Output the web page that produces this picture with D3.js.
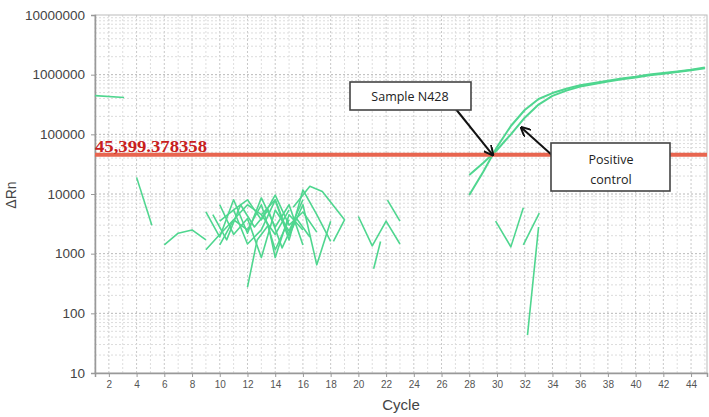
<!DOCTYPE html>
<html><head><meta charset="utf-8">
<script src="https://cdn.jsdelivr.net/npm/d3@7"></script>
<style>body{margin:0;background:#fff;}svg{display:block;}</style>
</head><body>
<svg id="c" width="709" height="417"></svg>
<script>
// ---- data ----
const yTicks = [10, 100, 1000, 10000, 100000, 1000000, 10000000];
const xTicks = [2,4,6,8,10,12,14,16,18,20,22,24,26,28,30,32,34,36,38,40,42,44];
const threshold = 45399.378358;
const thresholdLabel = "45,399.378358";
const sampleCycles = [28,29,30,31,32,33,34,35,36,37,38,39,40,41,42,43,44,45];
const sampleN428 = [20800,33000,54600,100000,190000,315000,440000,540000,630000,700000,770000,840000,900000,980000,1040000,1105000,1185000,1280000];
const positiveCtrl = [9600,23400,61300,138000,256000,391000,492000,580000,665000,725000,795000,865000,925000,1005000,1070000,1135000,1215000,1320000];
// background noise traces: [cycle, ΔRn]
const noise = [
  [[1,445000],[3.1,415000]],
  [[4,19000],[5.1,3000]],
  [[6,1400],[7,2200],[8,2500],[9,1700]],
  [[9,5000],[10,1900],[11,8000],[12,2200],[13,8600],[14,2800],[15,6600],[16,1400]],
  [[9,1160],[10,2100],[11,3700],[12,6600],[13,4500],[14,2100],[15,5400]],
  [[12,275],[12.7,1700],[13.5,3000],[14,860],[15,4500],[16,2500]],
  [[10,3500],[11,5400],[12,1450],[13,2500],[14,7900],[15,1700],[16,11700],[17,4500],[18,1600]],
  [[10,6600],[11,2100],[12,3900],[13,860],[14,5400],[15,2400],[16,8000]],
  [[11,5400],[12,8000],[13,3700],[14,9600],[15,3000],[16,5000],[17,2300]],
  [[13,4500],[14,8000],[15,2000],[16,6600],[17,650],[18,3500]],
  [[15.3,6000],[16.5,13500],[17.4,11000],[19,3700],[18.2,1600]],
  [[10,1400],[11,3700],[12,2500],[13,6600],[14,1160],[15,3700]],
  [[9.5,4500],[10.5,1700],[11.5,6600],[12.5,2800],[13.5,5400],[14.5,1250],[15.5,4000],[16.5,1900]],
  [[20,4200],[21,1350],[22,3500],[23,1450]],
  [[21.1,560],[21.6,1600]],
  [[22.1,7900],[23,3500]],
  [[29.9,3500],[31,1300],[31.9,5900]],
  [[31.9,1400],[33.05,4800]],
  [[32.2,43],[33,2800]]
];
// ---- layout ----
const svg = d3.select("#c");
const L = 95, R = 707, T = 15, B = 373;
const x = d3.scaleLinear().domain([1, 45.15]).range([L, R]);
const y = d3.scaleLog().domain([10, 1e7]).range([B, T]);
const green = "#4fd68f";

// grid
const g = svg.append("g");
for (let c = 1; c <= 45; c++) {
  g.append("line").attr("x1", x(c)).attr("x2", x(c)).attr("y1", T).attr("y2", B)
   .attr("stroke", c % 2 === 0 ? "#c8c8c8" : "#dedede").attr("stroke-dasharray", "2,2").attr("stroke-width", 1);
}
for (let k = 1; k < 7; k++) {
  for (let m = 1; m <= 9; m++) {
    const v = m * Math.pow(10, k);
    if (v <= 10 || v >= 1e7) continue;
    g.append("line").attr("x1", L).attr("x2", R).attr("y1", y(v)).attr("y2", y(v))
     .attr("stroke", m === 1 ? "#b8b8b8" : "#dcdcdc").attr("stroke-dasharray", "2,2").attr("stroke-width", 1);
  }
}
// frame
svg.append("rect").attr("x", L).attr("y", T).attr("width", R - L).attr("height", B - T)
  .attr("fill", "none").attr("stroke", "#bbb").attr("stroke-width", 1);

// axes
const yAxis = d3.axisLeft(y).tickValues(yTicks).tickFormat(d3.format("d")).tickSize(4).tickPadding(6);
const ya = svg.append("g").attr("transform", `translate(${L},0)`).call(yAxis);
ya.select(".domain").attr("stroke", "#999").attr("stroke-width", 1.5);
ya.selectAll(".tick line").attr("stroke", "#999");
ya.selectAll("text").attr("font-family", "Liberation Sans, Arial, sans-serif").attr("font-size", 13.5).attr("fill", "#444");

const xAxis = d3.axisBottom(x).tickValues(xTicks).tickSize(4).tickPadding(4);
const xa = svg.append("g").attr("transform", `translate(0,${B})`).call(xAxis);
xa.select(".domain").attr("stroke", "#999").attr("stroke-width", 1.5);
xa.selectAll(".tick line").attr("stroke", "#999");
xa.selectAll("text").attr("font-family", "Liberation Sans, Arial, sans-serif").attr("font-size", 10).attr("fill", "#555");

svg.append("text").attr("x", 401).attr("y", 410).attr("text-anchor", "middle")
  .attr("font-family", "Liberation Sans, Arial, sans-serif").attr("font-size", 15).attr("fill", "#444").text("Cycle");
svg.append("text").attr("transform", "translate(16,195) rotate(-90)").attr("text-anchor", "middle")
  .attr("font-family", "Liberation Sans, Arial, sans-serif").attr("font-size", 14).attr("fill", "#444").text("ΔRn");

// traces
const line = d3.line().x(d => x(d[0])).y(d => y(d[1]));
const tr = svg.append("g").attr("fill", "none").attr("stroke", green).attr("stroke-width", 1.6).attr("stroke-linejoin", "round");
noise.forEach(s => tr.append("path").attr("d", line(s)));
tr.append("path").attr("d", line(sampleCycles.map((c, i) => [c, sampleN428[i]]))).attr("stroke-width", 2);
tr.append("path").attr("d", line(sampleCycles.map((c, i) => [c, positiveCtrl[i]]))).attr("stroke-width", 2);

// threshold
svg.append("line").attr("x1", L).attr("x2", R).attr("y1", y(threshold)).attr("y2", y(threshold))
  .attr("stroke", "#e8654f").attr("stroke-width", 4);
svg.append("text").attr("x", L).attr("y", y(threshold) - 3)
  .attr("font-family", "Liberation Serif, Times New Roman, serif").attr("font-weight", "bold")
  .attr("font-size", 16).attr("fill", "#c8201c").attr("textLength", 112).attr("lengthAdjust", "spacingAndGlyphs")
  .text(thresholdLabel);

// annotations
const defs = svg.append("defs");
defs.append("marker").attr("id", "ah").attr("viewBox", "0 0 10 10").attr("refX", 9).attr("refY", 5)
  .attr("markerWidth", 5).attr("markerHeight", 5).attr("orient", "auto")
  .append("path").attr("d", "M0,0 L10,5 L0,10").attr("fill", "none").attr("stroke", "#111").attr("stroke-width", 2);

svg.append("line").attr("x1", 455).attr("y1", 108).attr("x2", x(29.7)).attr("y2", y(45000))
  .attr("stroke", "#111").attr("stroke-width", 2).attr("marker-end", "url(#ah)");
svg.append("line").attr("x1", 553).attr("y1", 156).attr("x2", x(31.75)).attr("y2", y(130000))
  .attr("stroke", "#111").attr("stroke-width", 2).attr("marker-end", "url(#ah)");

svg.append("rect").attr("x", 350).attr("y", 82).attr("width", 121).attr("height", 28)
  .attr("fill", "#fff").attr("stroke", "#444").attr("stroke-width", 1.6);
svg.append("text").attr("x", 410).attr("y", 101).attr("text-anchor", "middle")
  .attr("font-family", "Open Sans, Liberation Sans, sans-serif").attr("font-size", 12.5).attr("fill", "#222").text("Sample N428");

svg.append("rect").attr("x", 551).attr("y", 143).attr("width", 119).attr("height", 48)
  .attr("fill", "#fff").attr("stroke", "#444").attr("stroke-width", 1.6);
svg.append("text").attr("x", 611).attr("y", 164).attr("text-anchor", "middle")
  .attr("font-family", "Open Sans, Liberation Sans, sans-serif").attr("font-size", 12.5).attr("fill", "#222").text("Positive");
svg.append("text").attr("x", 611).attr("y", 184).attr("text-anchor", "middle")
  .attr("font-family", "Open Sans, Liberation Sans, sans-serif").attr("font-size", 12.5).attr("fill", "#222").text("control");
</script>
</body></html>
